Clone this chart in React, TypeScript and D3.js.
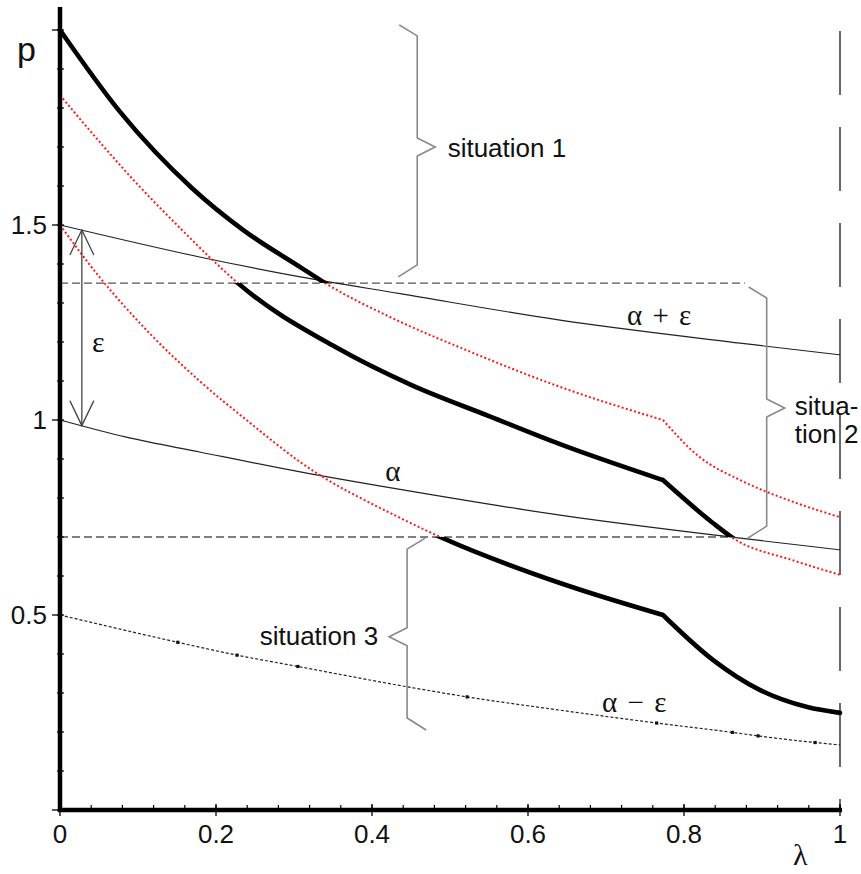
import React from 'react';
import * as d3 from 'd3';

type Pt = [number, number];

// Three solution curves p(λ)
const curveA: Pt[] = [[0, 2.0], [0.077, 1.79], [0.169, 1.595], [0.235, 1.487], [0.308, 1.392], [0.34, 1.351], [0.436, 1.252], [0.52, 1.18], [0.641, 1.085], [0.773, 1.0], [0.82, 0.905], [0.872, 0.846], [0.94, 0.79], [1, 0.751]];
const curveB: Pt[] = [[0, 1.833], [0.05, 1.715], [0.1, 1.603], [0.15, 1.5], [0.2, 1.402], [0.228, 1.351], [0.355, 1.185], [0.45, 1.09], [0.55, 1.01], [0.641, 0.938], [0.773, 0.846], [0.837, 0.736], [0.863, 0.697], [0.94, 0.64], [1, 0.603]];
const curveC: Pt[] = [[0, 1.5], [0.05, 1.368], [0.115, 1.222], [0.179, 1.1], [0.244, 0.992], [0.308, 0.892], [0.436, 0.749], [0.491, 0.697], [0.641, 0.582], [0.773, 0.5], [0.837, 0.385], [0.897, 0.308], [0.958, 0.264], [1, 0.249]];
const kinkLambda = 0.773;

// α, α+ε, α−ε lines
const alphaPlus: Pt[] = [[0, 1.5], [0.179, 1.418], [0.308, 1.367], [0.436, 1.324], [0.641, 1.256], [0.872, 1.197], [1, 1.167]];
const alphaLine: Pt[] = [[0, 1.0], [0.085, 0.956], [0.179, 0.918], [0.308, 0.867], [0.436, 0.822], [0.641, 0.756], [0.872, 0.697], [1, 0.667]];
const alphaMinus: Pt[] = [[0, 0.5], [0.151, 0.43], [0.227, 0.397], [0.305, 0.368], [0.445, 0.316], [0.522, 0.29], [0.641, 0.256], [0.765, 0.223], [0.862, 0.199], [0.895, 0.19], [0.968, 0.173], [1, 0.167]];
const alphaMinusMarkers = [0.151, 0.227, 0.305, 0.522, 0.765, 0.862, 0.895, 0.968];

// horizontal dashed thresholds
const levels = [1.351, 0.7];
const levelEnds = [0.878, 0.863];

// ticks
const xMajorTicks = [0, 0.2, 0.4, 0.6, 0.8, 1];
const xTickLabels = ['0', '0.2', '0.4', '0.6', '0.8', '1'];
const yMajorTicks = [0, 0.5, 1, 1.5, 2];
const yLabelTicks = [0.5, 1, 1.5];
const yTickLabels = ['0.5', '1', '1.5'];

// braces: spine λ, top p, bottom p, middle p, direction of point
const braces = [
  { lam: 0.458, top: 2.013, bottom: 1.367, mid: 1.7, dir: 1 },
  { lam: 0.906, top: 1.341, bottom: 0.697, mid: 1.031, dir: 1 },
  { lam: 0.445, top: 0.697, bottom: 0.205, mid: 0.444, dir: -1 },
];
const epsArrowLambda = 0.028;

const W = 861;
const H = 874;
const x = d3.scaleLinear().domain([0, 1]).range([60, 840]);
const y = d3.scaleLinear().domain([0, 2]).range([810, 30]);

const lineGen = d3.line<Pt>().x(d => x(d[0])).y(d => y(d[1])).curve(d3.curveMonotoneX);
const kinked = (pts: Pt[]) => {
  const i = pts.findIndex(p => p[0] === kinkLambda);
  if (i < 0) return lineGen(pts) as string;
  return (lineGen(pts.slice(0, i + 1)) as string) + (lineGen(pts.slice(i)) as string);
};
const interp = (pts: Pt[], lam: number) =>
  d3.scaleLinear().domain(pts.map(p => p[0])).range(pts.map(p => p[1]))(lam);

const bracePath = (b: { lam: number; top: number; bottom: number; mid: number; dir: number }) => {
  const sx = x(b.lam);
  const yt = y(b.top), yb = y(b.bottom), ym = y(b.mid);
  const d = b.dir;
  return `M${sx - d * 18},${yt} L${sx},${yt + 11} L${sx},${ym - 9} L${sx + d * 18},${ym} L${sx},${ym + 9} L${sx},${yb - 12} L${sx - d * 19},${yb}`;
};

export default function App() {
  const sans = "'Liberation Sans', Arial, Helvetica, sans-serif";
  const serif = "'Liberation Serif', 'Times New Roman', serif";
  const xMinor = d3.range(0, 1.0001, 0.04);
  const yMinor = d3.range(0, 2.0001, 0.1);
  const red = '#ff1a1a';
  const arrowX = x(epsArrowLambda);
  const arrowTop = y(interp(alphaPlus, epsArrowLambda));
  const arrowBot = y(interp(alphaLine, epsArrowLambda));

  return (
    <svg width={W} height={H} style={{ position: 'absolute', left: 0, top: 0, background: '#fff' }}>
      <defs>
        <clipPath id="clipA"><rect x={0} y={0} width={W} height={y(levels[0])} /></clipPath>
        <clipPath id="clipB"><rect x={0} y={y(levels[0])} width={W} height={y(levels[1]) - y(levels[0])} /></clipPath>
        <clipPath id="clipC"><rect x={0} y={y(levels[1])} width={W} height={H - y(levels[1])} /></clipPath>
      </defs>
      <rect x={0} y={0} width={W} height={H} fill="#fff" />

      {/* right dashed boundary at λ=1 */}
      <line x1={x(1)} x2={x(1)} y1={31} y2={810} stroke="#444" strokeWidth={1.6} strokeDasharray="64 32" />

      {/* dashed thresholds */}
      {levels.map((lv, i) => (
        <line key={i} x1={x(0)} x2={x(levelEnds[i])} y1={y(lv)} y2={y(lv)} stroke="#555" strokeWidth={1.4} strokeDasharray="8 4" />
      ))}

      {/* α lines */}
      <path d={lineGen(alphaPlus) as string} fill="none" stroke="#222" strokeWidth={1.2} />
      <path d={lineGen(alphaLine) as string} fill="none" stroke="#222" strokeWidth={1.2} />
      <path d={lineGen(alphaMinus) as string} fill="none" stroke="#222" strokeWidth={1.2} strokeDasharray="3 2" />
      {alphaMinusMarkers.map((m, i) => (
        <rect key={i} x={x(m) - 1.6} y={y(interp(alphaMinus, m)) - 1.6} width={3.2} height={3.2} fill="#111" />
      ))}

      {/* red dotted full curves */}
      {[curveA, curveB, curveC].map((c, i) => (
        <path key={i} d={kinked(c)} fill="none" stroke={red} strokeWidth={2} strokeDasharray="2 2.3" />
      ))}

      {/* black thick parts */}
      <path d={kinked(curveA)} fill="none" stroke="#000" strokeWidth={4.6} strokeLinejoin="round" strokeLinecap="round" clipPath="url(#clipA)" />
      <path d={kinked(curveB)} fill="none" stroke="#000" strokeWidth={4.6} strokeLinejoin="round" strokeLinecap="round" clipPath="url(#clipB)" />
      <path d={kinked(curveC)} fill="none" stroke="#000" strokeWidth={4.6} strokeLinejoin="round" strokeLinecap="round" clipPath="url(#clipC)" />

      {/* braces */}
      {braces.map((b, i) => (
        <path key={i} d={bracePath(b)} fill="none" stroke="#888" strokeWidth={1.6} />
      ))}

      {/* epsilon arrow */}
      <g stroke="#444" strokeWidth={1.3} fill="none">
        <line x1={arrowX} x2={arrowX} y1={arrowTop} y2={arrowBot} />
        <path d={`M${arrowX - 12},${arrowTop + 25} L${arrowX},${arrowTop} L${arrowX + 12},${arrowTop + 25}`} />
        <path d={`M${arrowX - 12},${arrowBot - 25} L${arrowX},${arrowBot} L${arrowX + 12},${arrowBot - 25}`} />
      </g>

      {/* annotation texts */}
      <text x={x(0.041)} y={y(1.174)} fontFamily={serif} fontSize={30} fill="#111">ε</text>
      <text x={x(0.727)} y={y(1.244)} fontFamily={serif} fontSize={29} fill="#111" style={{ wordSpacing: '3px' }}>α + ε</text>
      <text x={x(0.417)} y={y(0.844)} fontFamily={serif} fontSize={29} fill="#111">α</text>
      <text x={x(0.695)} y={y(0.251)} fontFamily={serif} fontSize={29} fill="#111" style={{ wordSpacing: '3px' }}>α − ε</text>
      <text x={x(0.497)} y={y(1.674)} fontFamily={sans} fontSize={26} fill="#111">situation 1</text>
      <text x={x(0.942)} y={y(1.013)} fontFamily={sans} fontSize={26} fill="#111">situa-</text>
      <text x={x(0.942)} y={y(0.941)} fontFamily={sans} fontSize={26} fill="#111">tion 2</text>
      <text x={x(0.408)} y={y(0.423)} fontFamily={sans} fontSize={26} fill="#111" textAnchor="end">situation 3</text>

      {/* axes */}
      <line x1={x(0)} x2={x(0)} y1={7} y2={812} stroke="#000" strokeWidth={4.5} />
      <line x1={x(0) - 2} x2={x(1) + 2} y1={y(0)} y2={y(0)} stroke="#000" strokeWidth={4.5} />
      {yMinor.map((t, i) => (
        <line key={'ym' + i} x1={x(0) - 3} x2={x(0) + 4} y1={y(t)} y2={y(t)} stroke="#000" strokeWidth={1.2} />
      ))}
      {yMajorTicks.map((t, i) => (
        <line key={'yM' + i} x1={x(0) - 8} x2={x(0)} y1={y(t)} y2={y(t)} stroke="#000" strokeWidth={1.3} />
      ))}
      {xMinor.map((t, i) => (
        <line key={'xm' + i} x1={x(t)} x2={x(t)} y1={y(0) - 5} y2={y(0)} stroke="#000" strokeWidth={1.2} />
      ))}
      {xMajorTicks.map((t, i) => (
        <line key={'xM' + i} x1={x(t)} x2={x(t)} y1={y(0) - 6} y2={y(0) + 6} stroke="#000" strokeWidth={1.3} />
      ))}
      {xMajorTicks.map((t, i) => (
        <text key={'xl' + i} x={x(t)} y={y(0) + 33} fontFamily={sans} fontSize={26} fill="#111" textAnchor="middle">{xTickLabels[i]}</text>
      ))}
      {yLabelTicks.map((t, i) => (
        <text key={'yl' + i} x={x(0) - 13} y={y(t) + 9} fontFamily={sans} fontSize={26} fill="#111" textAnchor="end">{yTickLabels[i]}</text>
      ))}
      <text x={17} y={61} fontFamily={sans} fontSize={34} fill="#111">p</text>
      <text x={793} y={865} fontFamily={serif} fontSize={30} fill="#111">λ</text>
    </svg>
  );
}
